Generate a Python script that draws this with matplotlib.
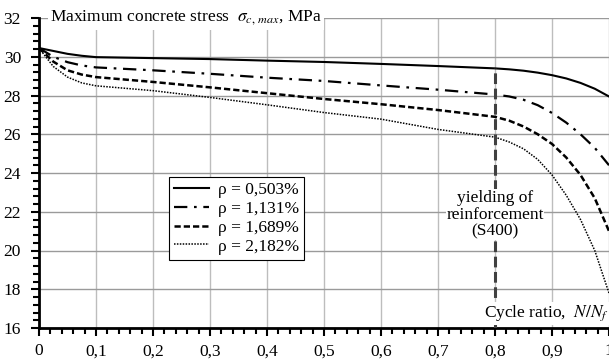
import matplotlib
matplotlib.use("Agg")
import matplotlib.pyplot as plt
from matplotlib.ticker import MultipleLocator, FuncFormatter

# ---- data ----
cycle_ratio = [0, 0.025, 0.05, 0.075, 0.1, 0.2, 0.3, 0.4, 0.5, 0.6, 0.7, 0.8,
               0.825, 0.85, 0.875, 0.9, 0.925, 0.95, 0.975, 1.0]
rho_0503 = [30.45, 30.3, 30.15, 30.05, 29.98, 29.93, 29.88, 29.8, 29.73, 29.63, 29.52,
            29.4, 29.35, 29.28, 29.18, 29.05, 28.88, 28.65, 28.35, 27.95]
rho_1131 = [30.45, 30.0, 29.72, 29.55, 29.45, 29.3, 29.12, 28.92, 28.75, 28.52, 28.3,
            28.05, 27.95, 27.78, 27.5, 27.1, 26.6, 26.0, 25.3, 24.4]
rho_1689 = [30.45, 29.75, 29.3, 29.08, 28.95, 28.7, 28.42, 28.12, 27.82, 27.55, 27.25,
            26.9, 26.7, 26.4, 26.0, 25.5, 24.8, 23.9, 22.7, 21.0]
rho_2182 = [30.45, 29.5, 28.95, 28.65, 28.5, 28.25, 27.9, 27.52, 27.12, 26.78, 26.25,
            25.85, 25.6, 25.25, 24.7, 23.9, 22.85, 21.6, 20.0, 17.8]
labels = ["ρ = 0,503%", "ρ = 1,131%", "ρ = 1,689%", "ρ = 2,182%"]
yield_x = 0.8
yield_top = 29.4

plt.rcParams['font.family'] = ['Liberation Serif', 'DejaVu Serif']
plt.rcParams['mathtext.fontset'] = 'stix'

FS = 12.5

fig = plt.figure(figsize=(6.09, 3.59), dpi=100)
ax = fig.add_axes([39/609, 1-328/359, 570/609, 310/359])

ax.plot(cycle_ratio, rho_0503, color='black', lw=1.5, ls='-', label=labels[0])
ax.plot(cycle_ratio, rho_1131, color='black', lw=1.6, ls=(0, (6, 3, 1.2, 3)), label=labels[1])
ax.plot(cycle_ratio, rho_1689, color='black', lw=1.8, ls=(0, (2.5, 1.2)), label=labels[2])
ax.plot(cycle_ratio, rho_2182, color='black', lw=1.1, ls=(0, (1, 0.9)), label=labels[3])

ax.plot([yield_x, yield_x], [16, yield_top], color='#404040', lw=2.2, ls=(0, (3.5, 1.5)), zorder=3)

ax.set_xlim(0, 1)
ax.set_ylim(16, 32)
ax.xaxis.set_major_locator(MultipleLocator(0.1))
ax.xaxis.set_minor_locator(MultipleLocator(0.02))
ax.yaxis.set_major_locator(MultipleLocator(2))
ax.yaxis.set_minor_locator(MultipleLocator(0.4))
ax.xaxis.set_major_formatter(FuncFormatter(lambda v, p: ('%g' % round(v, 2)).replace('.', ',')))
ax.yaxis.set_major_formatter(FuncFormatter(lambda v, p: '%d' % v))

ax.grid(axis='x', which='major', color='#bdbdbd', lw=1.0)
ax.grid(axis='y', which='major', color='#9a9a9a', lw=1.0)
ax.set_axisbelow(True)

for s in ['top', 'right']:
    ax.spines[s].set_visible(False)
for s in ['left', 'bottom']:
    ax.spines[s].set_linewidth(2.0)
ax.tick_params(which='major', direction='out', length=6, width=1.5, labelsize=FS)
ax.tick_params(which='minor', direction='out', length=4, width=1.5)
ax.tick_params(axis='x', which='major', pad=5)
ax.tick_params(axis='y', which='major', pad=7)

bb = dict(facecolor='white', edgecolor='none', pad=1.5)
ax.text(0.02, 32, "Maximum concrete stress  $\\sigma_{c,\\,max}$, MPa", ha='left', va='center',
        fontsize=FS, bbox=bb, zorder=5)
ax.text(1.0, 16.75, "Cycle ratio,  $N/N_f$", ha='right', va='center', fontsize=FS,
        bbox=bb, zorder=5)
ax.text(yield_x, 21.85, "yielding of\nreinforcement\n(S400)", ha='center', va='center',
        fontsize=FS, linespacing=1.05, bbox=dict(facecolor='white', edgecolor='none', pad=0.5),
        zorder=5)

leg = ax.legend(loc='upper left', bbox_to_anchor=(0.228, (23.8-16)/16), fancybox=False,
                edgecolor='black', framealpha=1, handlelength=2.0, labelspacing=0.15,
                borderpad=0.3, handletextpad=0.5, fontsize=FS, borderaxespad=0)
leg.get_frame().set_linewidth(0.8)

fig.savefig("out.png", dpi=100)
